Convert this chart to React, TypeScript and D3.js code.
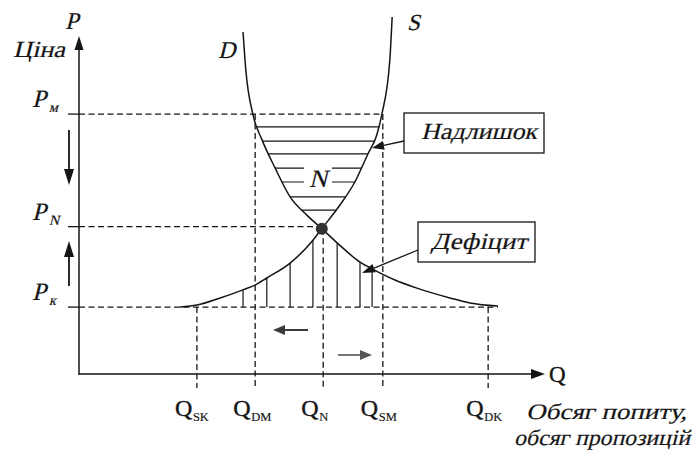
import React from "react";
import * as d3 from "d3";

const W = 698;
const H = 450;

// Quantities on the Q axis
const qLabels = ["SK", "DM", "N", "SM", "DK"];
const qValues = [2.53, 3.78, 5.24, 6.52, 8.78];

// Prices on the P axis
const pLabels = ["м", "N", "к"];
const pValues = [7.69, 4.36, 1.98];

// Equilibrium point N
const eqQ = 5.21;
const eqP = 4.3;

// Demand curve D
const demandQ = [3.52, 3.58, 3.73, 3.93, 4.21, 4.53, 4.89, 5.21, 5.54, 6.03, 6.29, 6.78, 7.25, 7.96, 8.39, 8.99];
const demandP = [10.12, 8.99, 7.69, 6.92, 6.09, 5.24, 4.7, 4.3, 3.88, 3.31, 3.11, 2.78, 2.54, 2.25, 2.1, 2.01];

// Supply curve S
const supplyQ = [2.17, 2.53, 3.03, 3.52, 3.78, 4.03, 4.53, 5.02, 5.21, 5.6, 5.92, 6.2, 6.39, 6.5, 6.67, 6.72];
const supplyP = [1.98, 2.04, 2.25, 2.49, 2.63, 2.84, 3.28, 3.96, 4.3, 5.0, 5.68, 6.51, 7.07, 7.69, 9.29, 10.56];

// Hatching: surplus (horizontal lines at prices) and deficit (vertical lines at quantities)
const surplusLevels = [7.31, 6.89, 6.51, 6.09, 5.68, 5.24, 4.85];
const deficitLevels = [3.52, 4.03, 4.53, 5.02, 5.54, 6.03, 6.29, 6.78];

const SERIF = "'Liberation Serif', 'DejaVu Serif', serif";
const INK = "#151515";

function Arrow({ x1, y1, x2, y2, len = 12, wid = 9, sw = 1.4, color = INK }: any) {
  const a = Math.atan2(y2 - y1, x2 - x1);
  const bx = x2 - len * Math.cos(a);
  const by = y2 - len * Math.sin(a);
  const px = -Math.sin(a) * (wid / 2);
  const py = Math.cos(a) * (wid / 2);
  return (
    <g>
      <line x1={x1} y1={y1} x2={bx} y2={by} stroke={color} strokeWidth={sw} />
      <polygon points={`${x2},${y2} ${bx + px},${by + py} ${bx - px},${by - py}`} fill={color} />
    </g>
  );
}

// Serif text slanted to imitate the book's italic face
function Ital({ x, y, size, children, len, anchor = "start" }: any) {
  const extra: any = len ? { textLength: len, lengthAdjust: "spacingAndGlyphs" } : {};
  return (
    <text
      transform={`translate(${x},${y}) skewX(-14)`}
      fontFamily={SERIF}
      fontSize={size}
      fill={INK}
      stroke={INK}
      strokeWidth={0.2}
      textAnchor={anchor}
      {...extra}
    >
      {children}
    </text>
  );
}

export default function App() {
  const x = d3.scaleLinear().domain([0, 10]).range([79, 545]);
  const y = d3.scaleLinear().domain([0, 10]).range([374, 36]);

  const demand = demandQ.map((q, i) => [q, demandP[i]] as [number, number]);
  const supply = supplyQ.map((q, i) => [q, supplyP[i]] as [number, number]);

  const line = d3
    .line<[number, number]>()
    .x((d) => x(d[0]))
    .y((d) => y(d[1]))
    .curve(d3.curveMonotoneX);

  const areaAbove = d3
    .area<[number, number]>()
    .x((d) => x(d[0]))
    .y0(0)
    .y1((d) => y(d[1]))
    .curve(d3.curveMonotoneX);
  const areaBelow = d3
    .area<[number, number]>()
    .x((d) => x(d[0]))
    .y0(y(0))
    .y1((d) => y(d[1]))
    .curve(d3.curveMonotoneX);

  const [pM, pN, pK] = pValues;
  const [qSK, qDM, qN, qSM, qDK] = qValues;
  const dash = "6,3.5";
  const axisY = y(0);
  const tickBottom = axisY + 14;

  return (
    <svg width={W} height={H} style={{ display: "block", position: "absolute", left: 0, top: 0, background: "#fff" }}>
      <defs>
        <clipPath id="aboveD">
          <path d={areaAbove(demand) || ""} />
        </clipPath>
        <clipPath id="aboveS">
          <path d={areaAbove(supply) || ""} />
        </clipPath>
        <clipPath id="belowD">
          <path d={areaBelow(demand) || ""} />
          <rect x={x(0)} y={0} width={x(3.6) - x(0)} height={H} />
        </clipPath>
        <clipPath id="belowS">
          <path d={areaBelow(supply) || ""} />
        </clipPath>
      </defs>

      {/* Surplus hatching */}
      <g clipPath="url(#aboveD)">
        <g clipPath="url(#aboveS)">
          {surplusLevels.map((p, i) => (
            <line key={i} x1={x(3)} x2={x(7.2)} y1={y(p)} y2={y(p)} stroke={INK} strokeWidth={1.2} />
          ))}
        </g>
      </g>
      {/* Deficit hatching */}
      <g clipPath="url(#belowD)">
        <g clipPath="url(#belowS)">
          {deficitLevels.map((q, i) => (
            <line key={i} x1={x(q)} x2={x(q)} y1={y(pK)} y2={y(10)} stroke={INK} strokeWidth={1.2} />
          ))}
        </g>
      </g>

      {/* Dashed guide lines */}
      <g stroke={INK} strokeWidth={1.3} strokeDasharray={dash} fill="none">
        <line x1={x(0)} x2={x(qSM)} y1={y(pM)} y2={y(pM)} />
        <line x1={x(0)} x2={x(eqQ)} y1={y(pN)} y2={y(pN)} />
        <line x1={x(0)} x2={x(8.99)} y1={y(pK)} y2={y(pK)} />
        <line x1={x(qSK)} x2={x(qSK)} y1={y(pK)} y2={tickBottom} />
        <line x1={x(qDM)} x2={x(qDM)} y1={y(pM)} y2={tickBottom} />
        <line x1={x(qN)} x2={x(qN)} y1={y(eqP)} y2={tickBottom} />
        <line x1={x(qSM)} x2={x(qSM)} y1={y(pM)} y2={tickBottom} />
        <line x1={x(qDK)} x2={x(qDK)} y1={y(pK)} y2={tickBottom} />
      </g>

      {/* Y-axis ticks */}
      {pValues.map((p, i) => (
        <line key={i} x1={x(0) - 11} x2={x(0)} y1={y(p)} y2={y(p)} stroke={INK} strokeWidth={1.3} />
      ))}

      {/* Axes */}
      <Arrow x1={x(0)} y1={axisY + 1} x2={x(0)} y2={36} len={14} wid={9} sw={1.5} />
      <Arrow x1={x(0)} y1={axisY} x2={x(10)} y2={axisY} len={14} wid={10} sw={1.5} />

      {/* Curves */}
      <path d={line(demand) || ""} fill="none" stroke={INK} strokeWidth={1.5} />
      <path d={line(supply) || ""} fill="none" stroke={INK} strokeWidth={1.5} />

      {/* Equilibrium point */}
      <circle cx={x(eqQ)} cy={y(eqP)} r={6} fill="#333" />

      {/* N label with white background */}
      <rect x={304} y={166} width={28} height={22} fill="#fff" />
      <Ital x={318} y={187} size={25} anchor="middle">N</Ital>

      {/* Curve labels */}
      <Ital x={218} y={58} size={24}>D</Ital>
      <Ital x={407} y={30} size={23}>S</Ital>

      {/* Axis labels */}
      <Ital x={65} y={29} size={24}>P</Ital>
      <Ital x={13} y={57} size={23} len={52}>Ціна</Ital>
      <text x={549} y={382} fontFamily={SERIF} fontSize={23} fill={INK} stroke={INK} strokeWidth={0.35}>Q</text>

      {/* Price labels */}
      {pValues.map((p, i) => (
        <g key={i}>
          <Ital x={32} y={y(p) - 7} size={25}>P</Ital>
          <Ital x={49} y={y(p) - 2} size={14}>{pLabels[i]}</Ital>
        </g>
      ))}

      {/* Quantity labels */}
      {qValues.map((q, i) => (
        <g key={i}>
          <text x={x(q) - 22} y={416} fontFamily={SERIF} fontSize={24} fill={INK} stroke={INK} strokeWidth={0.4}>Q</text>
          <text x={x(q) - 4} y={421} fontFamily={SERIF} fontSize={12.5} fill={INK} stroke={INK} strokeWidth={0.15}>{qLabels[i]}</text>
        </g>
      ))}

      {/* Axis description */}
      <Ital x={526} y={419} size={22} len={161}>Обсяг попиту,</Ital>
      <Ital x={514} y={445} size={22} len={176}>обсяг пропозицій</Ital>

      {/* Price movement arrows */}
      <Arrow x1={69} y1={130} x2={69} y2={185} len={16} wid={10} sw={1.8} />
      <Arrow x1={69} y1={286} x2={69} y2={241} len={16} wid={10} sw={1.8} />

      {/* Quantity movement arrows */}
      <Arrow x1={308} y1={330} x2={273} y2={330} len={12} wid={10} sw={2} color="#3a3a3a" />
      <Arrow x1={338} y1={355} x2={372} y2={355} len={12} wid={10} sw={1.6} color="#555" />

      {/* Surplus annotation */}
      <rect x={404} y={113} width={140} height={40} fill="#fff" stroke={INK} strokeWidth={1.3} />
      <Ital x={421} y={139} size={23} len={116}>Надлишок</Ital>
      <Arrow x1={404} y1={141} x2={372} y2={148} len={12} wid={9} sw={1.3} />

      {/* Deficit annotation */}
      <rect x={418} y={222} width={117} height={40} fill="#fff" stroke={INK} strokeWidth={1.3} />
      <Ital x={431} y={249} size={23} len={96}>Дефіцит</Ital>
      <Arrow x1={418} y1={250} x2={362} y2={273} len={13} wid={9} sw={1.3} />
    </svg>
  );
}
